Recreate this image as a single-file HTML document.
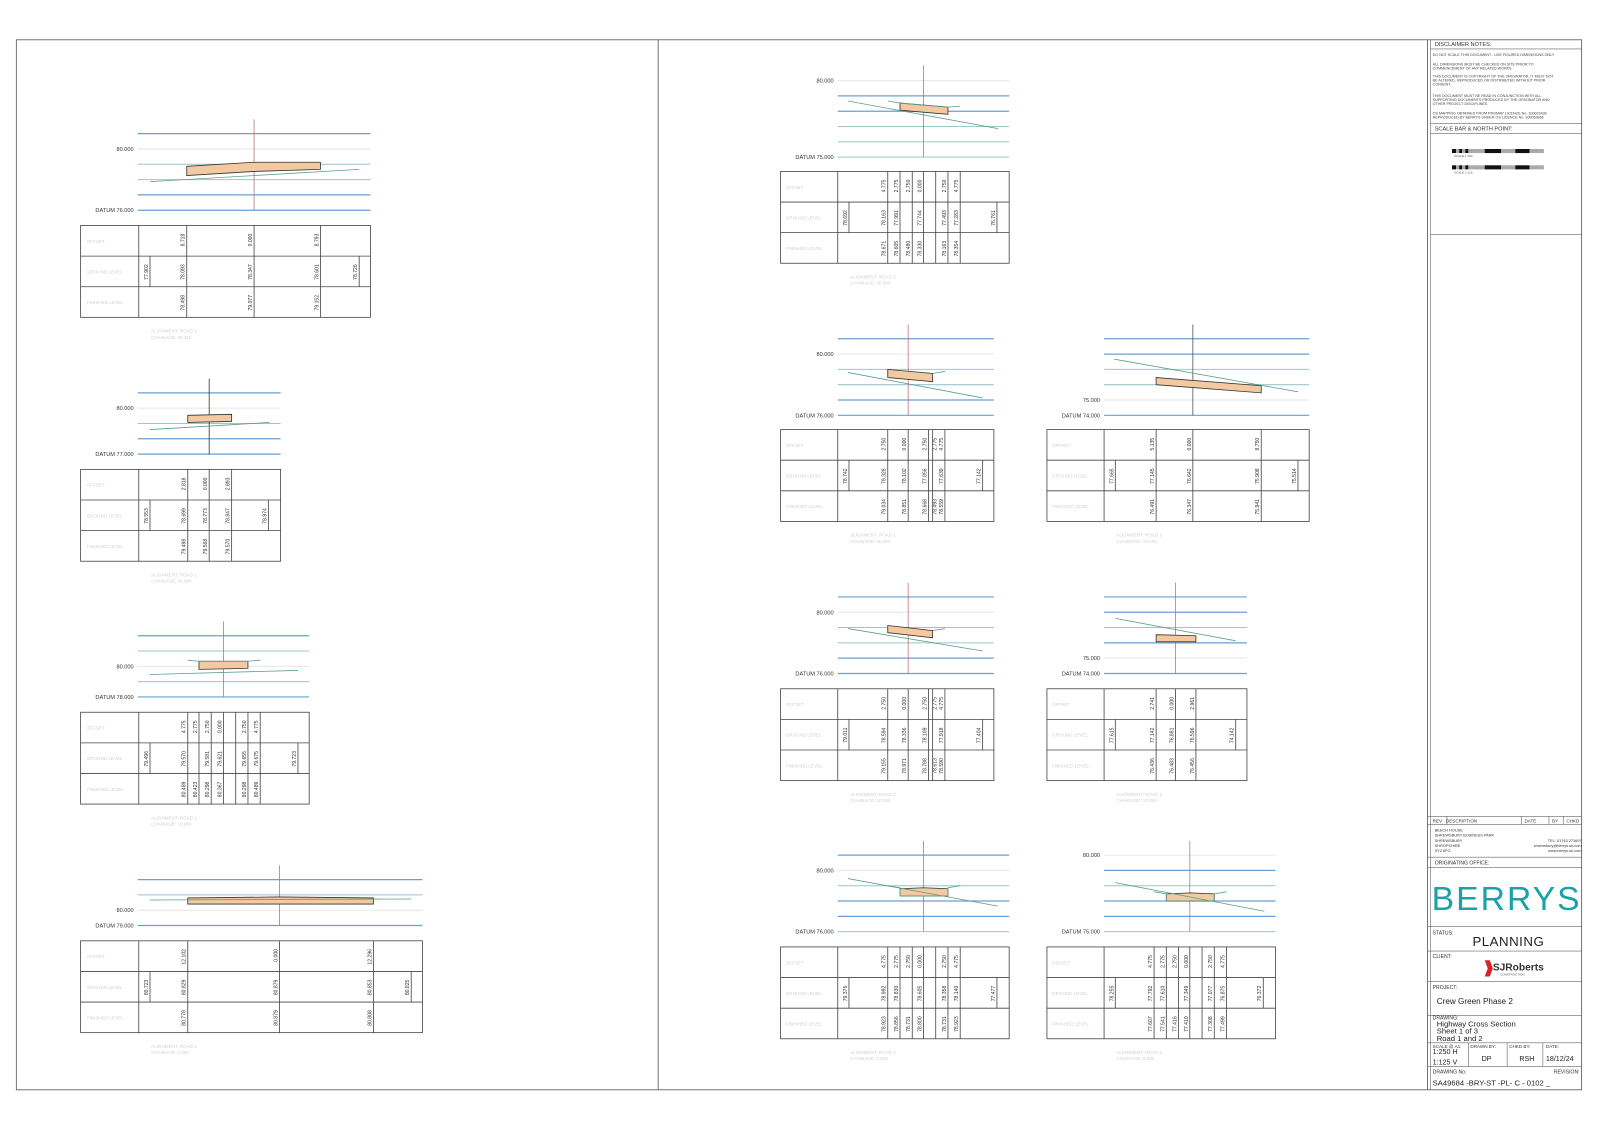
<!DOCTYPE html>
<html><head><meta charset="utf-8"><style>
html,body{margin:0;padding:0;background:#fff}
svg{display:block}
.b{stroke:#6b9fd3;stroke-width:1.2}
.g{stroke:#e6e6e6;stroke-width:1}
.t{stroke:#9cc6cc;stroke-width:1}
.v{stroke:#b77;stroke-width:.8}
.gr{stroke:#5aa08a;stroke-width:.8;fill:none}
.rd{fill:#f2c9a0;stroke:#333;stroke-width:.8}
.tb{fill:none;stroke:#444;stroke-width:.8}
.tl{stroke:#444;stroke-width:.8}
text{font-family:"Liberation Sans",sans-serif}
.n{font-size:5px;fill:#333}
.lb{font-size:5.5px;fill:#333}
.rl{font-size:4.5px;fill:#d0d0d0}
.ft{font-size:4.5px;fill:#d0d0d0}
.tt{font-size:5px;fill:#333}
</style></head><body>
<svg width="1600" height="1130" viewBox="0 0 1568 1107.4" xmlns="http://www.w3.org/2000/svg">
<rect x="16" y="39" width="1534" height="1029" fill="none" stroke="#555" stroke-width=".8"/>
<line x1="645" y1="39" x2="645" y2="1068" stroke="#555" stroke-width=".8"/>
<line x1="1399" y1="39" x2="1399" y2="1068" stroke="#555" stroke-width=".8"/>

<!-- Section A -->
<g>
<line class="b" x1="135" y1="131" x2="363" y2="131"/><line class="g" x1="135" y1="146" x2="363" y2="146"/><line class="t" x1="135" y1="161" x2="363" y2="161"/><line class="t" x1="135" y1="176" x2="363" y2="176"/><line class="b" x1="135" y1="191" x2="363" y2="191"/><line class="b" x1="135" y1="206" x2="363" y2="206"/>
<text class="lb" x="131" y="148" text-anchor="end">80.000</text><text class="lb" x="131" y="208" text-anchor="end">DATUM 76.000</text>
<line class="v" x1="249" y1="117" x2="249" y2="206"/>
<polygon class="rd" points="183,163 249,159 314,159 314,166 249,168 183,172"/>
<line class="gr" x1="147" y1="178" x2="352" y2="166"/>
<rect class="tb" x="79" y="221" width="284" height="90"/><line class="tl" x1="79" y1="251" x2="363" y2="251"/><line class="tl" x1="79" y1="281" x2="363" y2="281"/>
<line class="tl" x1="136" y1="221" x2="136" y2="311"/><line class="tl" x1="183" y1="221" x2="183" y2="311"/><line class="tl" x1="249" y1="221" x2="249" y2="311"/><line class="tl" x1="314" y1="221" x2="314" y2="311"/>
<line class="tl" x1="147" y1="251" x2="147" y2="281"/><line class="tl" x1="352" y1="251" x2="352" y2="281"/>
<text class="rl" x="85" y="238">OFFSET</text><text class="rl" x="85" y="268">GROUND LEVEL</text><text class="rl" x="85" y="298">FINISHED LEVEL</text>
<g class="n" text-anchor="middle">
<text transform="translate(181,229) rotate(-90)" text-anchor="end">8.718</text><text transform="translate(247,229) rotate(-90)" text-anchor="end">0.000</text><text transform="translate(312,229) rotate(-90)" text-anchor="end">8.793</text>
<text transform="translate(145,259) rotate(-90)" text-anchor="end">77.902</text><text transform="translate(181,259) rotate(-90)" text-anchor="end">78.093</text><text transform="translate(247,259) rotate(-90)" text-anchor="end">78.347</text><text transform="translate(312,259) rotate(-90)" text-anchor="end">78.601</text><text transform="translate(350,259) rotate(-90)" text-anchor="end">78.726</text>
<text transform="translate(181,289) rotate(-90)" text-anchor="end">78.498</text><text transform="translate(247,289) rotate(-90)" text-anchor="end">79.077</text><text transform="translate(312,289) rotate(-90)" text-anchor="end">79.152</text>
</g>
<text class="ft" x="148" y="326">ALIGNMENT: ROAD 1</text><text class="ft" x="148" y="332">CHAINAGE: 28.411</text>
</g>

<!-- Section B -->
<g>
<line class="b" x1="135" y1="385" x2="275" y2="385"/><line class="g" x1="135" y1="400" x2="275" y2="400"/><line class="t" x1="135" y1="415" x2="275" y2="415"/><line class="b" x1="135" y1="430" x2="275" y2="430"/><line class="b" x1="135" y1="445" x2="275" y2="445"/>
<text class="lb" x="131" y="402" text-anchor="end">80.000</text><text class="lb" x="131" y="447" text-anchor="end">DATUM 77.000</text>
<line x1="205" y1="371" x2="205" y2="445" stroke="#333" stroke-width=".8"/>
<polygon class="rd" points="184,407 227,406 227,413 184,414"/>
<line class="gr" x1="147" y1="421" x2="264" y2="414"/>
<rect class="tb" x="79" y="460" width="196" height="90"/><line class="tl" x1="79" y1="490" x2="275" y2="490"/><line class="tl" x1="79" y1="520" x2="275" y2="520"/>
<line class="tl" x1="136" y1="460" x2="136" y2="550"/><line class="tl" x1="184" y1="460" x2="184" y2="550"/><line class="tl" x1="205" y1="460" x2="205" y2="550"/><line class="tl" x1="227" y1="460" x2="227" y2="550"/>
<line class="tl" x1="147" y1="490" x2="147" y2="520"/><line class="tl" x1="263" y1="490" x2="263" y2="520"/>
<text class="rl" x="85" y="477">OFFSET</text><text class="rl" x="85" y="507">GROUND LEVEL</text><text class="rl" x="85" y="537">FINISHED LEVEL</text>
<g class="n" text-anchor="end">
<text transform="translate(182,468) rotate(-90)">2.818</text><text transform="translate(203,468) rotate(-90)">0.000</text><text transform="translate(225,468) rotate(-90)">2.893</text>
<text transform="translate(145,498) rotate(-90)">78.553</text><text transform="translate(182,498) rotate(-90)">78.699</text><text transform="translate(203,498) rotate(-90)">78.773</text><text transform="translate(225,498) rotate(-90)">78.847</text><text transform="translate(261,498) rotate(-90)">78.974</text>
<text transform="translate(182,528) rotate(-90)">79.498</text><text transform="translate(203,528) rotate(-90)">79.568</text><text transform="translate(225,528) rotate(-90)">79.570</text>
</g>
<text class="ft" x="148" y="565">ALIGNMENT: ROAD 1</text><text class="ft" x="148" y="571">CHAINAGE: 20.000</text>
</g>

<!-- Section C -->
<g>
<line class="b" x1="135" y1="623" x2="303" y2="623"/><line class="t" x1="135" y1="638" x2="303" y2="638"/><line class="g" x1="135" y1="653" x2="303" y2="653"/><line class="t" x1="135" y1="668" x2="303" y2="668"/><line class="b" x1="135" y1="683" x2="303" y2="683"/>
<text class="lb" x="131" y="655" text-anchor="end">80.000</text><text class="lb" x="131" y="685" text-anchor="end">DATUM 78.000</text>
<line class="v" x1="219" y1="609" x2="219" y2="683"/>
<polygon class="rd" points="195,648 243,648 243,655 195,656"/>
<polyline class="gr" points="184,647 195,648 243,648 255,647"/>
<line class="gr" x1="147" y1="661" x2="292" y2="657"/>
<rect class="tb" x="79" y="698" width="224" height="90"/><line class="tl" x1="79" y1="728" x2="303" y2="728"/><line class="tl" x1="79" y1="758" x2="303" y2="758"/>
<line class="tl" x1="136" y1="698" x2="136" y2="788"/><line class="tl" x1="184" y1="698" x2="184" y2="788"/><line class="tl" x1="195" y1="698" x2="195" y2="788"/><line class="tl" x1="207" y1="698" x2="207" y2="788"/><line class="tl" x1="219" y1="698" x2="219" y2="788"/><line class="tl" x1="231" y1="698" x2="231" y2="788"/><line class="tl" x1="243" y1="698" x2="243" y2="788"/><line class="tl" x1="255" y1="698" x2="255" y2="788"/>
<line class="tl" x1="147" y1="728" x2="147" y2="758"/><line class="tl" x1="292" y1="728" x2="292" y2="758"/>
<text class="rl" x="85" y="715">OFFSET</text><text class="rl" x="85" y="745">GROUND LEVEL</text><text class="rl" x="85" y="775">FINISHED LEVEL</text>
<g class="n" text-anchor="end">
<text transform="translate(182,706) rotate(-90)">4.775</text><text transform="translate(193,706) rotate(-90)">2.775</text><text transform="translate(205,706) rotate(-90)">2.750</text><text transform="translate(217,706) rotate(-90)">0.000</text><text transform="translate(241,706) rotate(-90)">2.750</text><text transform="translate(253,706) rotate(-90)">4.775</text>
<text transform="translate(145,736) rotate(-90)">79.496</text><text transform="translate(182,736) rotate(-90)">79.570</text><text transform="translate(205,736) rotate(-90)">79.581</text><text transform="translate(217,736) rotate(-90)">79.621</text><text transform="translate(241,736) rotate(-90)">79.655</text><text transform="translate(253,736) rotate(-90)">79.675</text><text transform="translate(290,736) rotate(-90)">79.723</text>
<text transform="translate(182,766) rotate(-90)">80.489</text><text transform="translate(193,766) rotate(-90)">80.423</text><text transform="translate(205,766) rotate(-90)">80.298</text><text transform="translate(217,766) rotate(-90)">80.367</text><text transform="translate(241,766) rotate(-90)">80.298</text><text transform="translate(253,766) rotate(-90)">80.489</text>
</g>
<text class="ft" x="148" y="803">ALIGNMENT: ROAD 1</text><text class="ft" x="148" y="809">CHAINAGE: 10.000</text>
</g>

<!-- Section D -->
<g>
<line class="b" x1="135" y1="862" x2="414" y2="862"/><line class="t" x1="135" y1="877" x2="414" y2="877"/><line class="g" x1="135" y1="892" x2="414" y2="892"/><line class="b" x1="135" y1="907" x2="414" y2="907"/>
<text class="lb" x="131" y="894" text-anchor="end">80.000</text><text class="lb" x="131" y="909" text-anchor="end">DATUM 79.000</text>
<line class="v" x1="274" y1="848" x2="274" y2="907"/>
<polygon class="rd" points="184,880 274,879 366,880 366,886 274,886 184,886"/>
<line class="gr" x1="147" y1="882" x2="403" y2="881"/>
<rect class="tb" x="79" y="922" width="335" height="90"/><line class="tl" x1="79" y1="952" x2="414" y2="952"/><line class="tl" x1="79" y1="982" x2="414" y2="982"/>
<line class="tl" x1="136" y1="922" x2="136" y2="1012"/><line class="tl" x1="184" y1="922" x2="184" y2="1012"/><line class="tl" x1="274" y1="922" x2="274" y2="1012"/><line class="tl" x1="366" y1="922" x2="366" y2="1012"/>
<line class="tl" x1="147" y1="952" x2="147" y2="982"/><line class="tl" x1="403" y1="952" x2="403" y2="982"/>
<text class="rl" x="85" y="939">OFFSET</text><text class="rl" x="85" y="969">GROUND LEVEL</text><text class="rl" x="85" y="999">FINISHED LEVEL</text>
<g class="n" text-anchor="end">
<text transform="translate(182,930) rotate(-90)">12.102</text><text transform="translate(272,930) rotate(-90)">0.000</text><text transform="translate(364,930) rotate(-90)">12.296</text>
<text transform="translate(145,960) rotate(-90)">80.723</text><text transform="translate(182,960) rotate(-90)">80.829</text><text transform="translate(272,960) rotate(-90)">80.879</text><text transform="translate(364,960) rotate(-90)">80.853</text><text transform="translate(401,960) rotate(-90)">80.825</text>
<text transform="translate(182,990) rotate(-90)">80.778</text><text transform="translate(272,990) rotate(-90)">80.879</text><text transform="translate(364,990) rotate(-90)">80.808</text>
</g>
<text class="ft" x="148" y="1027">ALIGNMENT: ROAD 1</text><text class="ft" x="148" y="1033">CHAINAGE: 0.000</text>
</g>

<!-- R1 -->
<g>
<line class="g" x1="821" y1="79" x2="989" y2="79"/><line class="b" x1="821" y1="94" x2="989" y2="94"/><line class="b" x1="821" y1="109" x2="989" y2="109"/><line class="t" x1="821" y1="124" x2="989" y2="124"/><line class="t" x1="821" y1="139" x2="989" y2="139"/><line class="t" x1="821" y1="154" x2="989" y2="154"/>
<text class="lb" x="817" y="81" text-anchor="end">80.000</text><text class="lb" x="817" y="156" text-anchor="end">DATUM 75.000</text>
<line class="v" x1="905" y1="64" x2="905" y2="154"/>
<polygon class="rd" points="882,101 929,105 929,112 882,108"/>
<polyline class="gr" points="870,99 882,101 929,105 941,104"/>
<line class="gr" x1="831" y1="99" x2="978" y2="126"/>
<rect class="tb" x="765" y="168" width="224" height="90"/><line class="tl" x1="765" y1="198" x2="989" y2="198"/><line class="tl" x1="765" y1="228" x2="989" y2="228"/>
<line class="tl" x1="821" y1="168" x2="821" y2="258"/><line class="tl" x1="870" y1="168" x2="870" y2="258"/><line class="tl" x1="882" y1="168" x2="882" y2="258"/><line class="tl" x1="894" y1="168" x2="894" y2="258"/><line class="tl" x1="905" y1="168" x2="905" y2="258"/><line class="tl" x1="917" y1="168" x2="917" y2="258"/><line class="tl" x1="929" y1="168" x2="929" y2="258"/><line class="tl" x1="941" y1="168" x2="941" y2="258"/>
<line class="tl" x1="832" y1="198" x2="832" y2="228"/><line class="tl" x1="977" y1="198" x2="977" y2="228"/>
<text class="rl" x="770" y="185">OFFSET</text><text class="rl" x="770" y="215">GROUND LEVEL</text><text class="rl" x="770" y="245">FINISHED LEVEL</text>
<g class="n" text-anchor="end">
<text transform="translate(868,176) rotate(-90)">4.775</text><text transform="translate(880,176) rotate(-90)">2.775</text><text transform="translate(892,176) rotate(-90)">2.750</text><text transform="translate(903,176) rotate(-90)">0.000</text><text transform="translate(927,176) rotate(-90)">2.750</text><text transform="translate(939,176) rotate(-90)">4.775</text>
<text transform="translate(830,206) rotate(-90)">78.692</text><text transform="translate(868,206) rotate(-90)">78.163</text><text transform="translate(880,206) rotate(-90)">77.991</text><text transform="translate(903,206) rotate(-90)">77.744</text><text transform="translate(927,206) rotate(-90)">77.493</text><text transform="translate(939,206) rotate(-90)">77.283</text><text transform="translate(975,206) rotate(-90)">76.761</text>
<text transform="translate(868,236) rotate(-90)">78.671</text><text transform="translate(880,236) rotate(-90)">78.605</text><text transform="translate(892,236) rotate(-90)">78.480</text><text transform="translate(903,236) rotate(-90)">78.330</text><text transform="translate(927,236) rotate(-90)">78.163</text><text transform="translate(939,236) rotate(-90)">78.354</text>
</g>
<text class="ft" x="833" y="273">ALIGNMENT: ROAD 2</text><text class="ft" x="833" y="279">CHAINAGE: 50.000</text>
</g>

<!-- R2 -->
<g>
<line class="b" x1="821" y1="332" x2="974" y2="332"/><line class="g" x1="821" y1="347" x2="974" y2="347"/><line class="t" x1="821" y1="362" x2="974" y2="362"/><line class="t" x1="821" y1="377" x2="974" y2="377"/><line class="b" x1="821" y1="392" x2="974" y2="392"/><line class="b" x1="821" y1="407" x2="974" y2="407"/>
<text class="lb" x="817" y="349" text-anchor="end">80.000</text><text class="lb" x="817" y="409" text-anchor="end">DATUM 76.000</text>
<line class="v" x1="890" y1="318" x2="890" y2="407"/>
<polygon class="rd" points="870,362 914,366 914,374 870,370"/>
<polyline class="gr" points="914,366 926,364"/>
<line class="gr" x1="831" y1="365" x2="963" y2="390"/>
<rect class="tb" x="765" y="421" width="209" height="90"/><line class="tl" x1="765" y1="451" x2="974" y2="451"/><line class="tl" x1="765" y1="481" x2="974" y2="481"/>
<line class="tl" x1="821" y1="421" x2="821" y2="511"/><line class="tl" x1="870" y1="421" x2="870" y2="511"/><line class="tl" x1="890" y1="421" x2="890" y2="511"/><line class="tl" x1="910" y1="421" x2="910" y2="511"/><line class="tl" x1="914" y1="421" x2="914" y2="511"/><line class="tl" x1="926" y1="421" x2="926" y2="511"/>
<line class="tl" x1="832" y1="451" x2="832" y2="481"/><line class="tl" x1="963" y1="451" x2="963" y2="481"/>
<text class="rl" x="770" y="438">OFFSET</text><text class="rl" x="770" y="468">GROUND LEVEL</text><text class="rl" x="770" y="498">FINISHED LEVEL</text>
<g class="n" text-anchor="end">
<text transform="translate(868,429) rotate(-90)">2.750</text><text transform="translate(888,429) rotate(-90)">0.000</text><text transform="translate(908,429) rotate(-90)">2.750</text><text transform="translate(918,429) rotate(-90)">2.775</text><text transform="translate(924,429) rotate(-90)">4.775</text>
<text transform="translate(830,459) rotate(-90)">78.742</text><text transform="translate(868,459) rotate(-90)">78.328</text><text transform="translate(888,459) rotate(-90)">78.102</text><text transform="translate(908,459) rotate(-90)">77.856</text><text transform="translate(924,459) rotate(-90)">77.639</text><text transform="translate(961,459) rotate(-90)">77.142</text>
<text transform="translate(868,489) rotate(-90)">79.034</text><text transform="translate(888,489) rotate(-90)">78.851</text><text transform="translate(908,489) rotate(-90)">78.668</text><text transform="translate(918,489) rotate(-90)">78.493</text><text transform="translate(924,489) rotate(-90)">78.559</text>
</g>
<text class="ft" x="833" y="526">ALIGNMENT: ROAD 2</text><text class="ft" x="833" y="532">CHAINAGE: 40.000</text>
</g>

<!-- R3 -->
<g>
<line class="b" x1="1082" y1="332" x2="1283" y2="332"/><line class="b" x1="1082" y1="347" x2="1283" y2="347"/><line class="t" x1="1082" y1="362" x2="1283" y2="362"/><line class="t" x1="1082" y1="377" x2="1283" y2="377"/><line class="g" x1="1082" y1="392" x2="1283" y2="392"/><line class="b" x1="1082" y1="407" x2="1283" y2="407"/>
<text class="lb" x="1078" y="394" text-anchor="end">75.000</text><text class="lb" x="1078" y="409" text-anchor="end">DATUM 74.000</text>
<line x1="1169" y1="318" x2="1169" y2="407" stroke="#555" stroke-width=".8"/>
<polygon class="rd" points="1133,370 1236,378 1236,385 1133,377"/>
<line class="gr" x1="1092" y1="352" x2="1272" y2="384"/>
<rect class="tb" x="1026" y="421" width="257" height="90"/><line class="tl" x1="1026" y1="451" x2="1283" y2="451"/><line class="tl" x1="1026" y1="481" x2="1283" y2="481"/>
<line class="tl" x1="1082" y1="421" x2="1082" y2="511"/><line class="tl" x1="1133" y1="421" x2="1133" y2="511"/><line class="tl" x1="1169" y1="421" x2="1169" y2="511"/><line class="tl" x1="1236" y1="421" x2="1236" y2="511"/>
<line class="tl" x1="1093" y1="451" x2="1093" y2="481"/><line class="tl" x1="1272" y1="451" x2="1272" y2="481"/>
<text class="rl" x="1031" y="438">OFFSET</text><text class="rl" x="1031" y="468">GROUND LEVEL</text><text class="rl" x="1031" y="498">FINISHED LEVEL</text>
<g class="n" text-anchor="end">
<text transform="translate(1131,429) rotate(-90)">5.135</text><text transform="translate(1167,429) rotate(-90)">0.000</text><text transform="translate(1234,429) rotate(-90)">8.750</text>
<text transform="translate(1091,459) rotate(-90)">77.665</text><text transform="translate(1131,459) rotate(-90)">77.145</text><text transform="translate(1167,459) rotate(-90)">76.642</text><text transform="translate(1234,459) rotate(-90)">75.908</text><text transform="translate(1270,459) rotate(-90)">75.514</text>
<text transform="translate(1131,489) rotate(-90)">76.491</text><text transform="translate(1167,489) rotate(-90)">76.347</text><text transform="translate(1234,489) rotate(-90)">75.941</text>
</g>
<text class="ft" x="1094" y="526">ALIGNMENT: ROAD 2</text><text class="ft" x="1094" y="532">CHAINAGE: 28.435</text>
</g>

<!-- R4 -->
<g>
<line class="b" x1="821" y1="585" x2="974" y2="585"/><line class="g" x1="821" y1="600" x2="974" y2="600"/><line class="t" x1="821" y1="615" x2="974" y2="615"/><line class="t" x1="821" y1="630" x2="974" y2="630"/><line class="b" x1="821" y1="645" x2="974" y2="645"/><line class="b" x1="821" y1="660" x2="974" y2="660"/>
<text class="lb" x="817" y="602" text-anchor="end">80.000</text><text class="lb" x="817" y="662" text-anchor="end">DATUM 76.000</text>
<line class="v" x1="890" y1="571" x2="890" y2="660"/>
<polygon class="rd" points="870,613 914,618 914,625 870,620"/>
<polyline class="gr" points="914,618 926,616"/>
<line class="gr" x1="831" y1="616" x2="963" y2="638"/>
<rect class="tb" x="765" y="675" width="209" height="90"/><line class="tl" x1="765" y1="705" x2="974" y2="705"/><line class="tl" x1="765" y1="735" x2="974" y2="735"/>
<line class="tl" x1="821" y1="675" x2="821" y2="765"/><line class="tl" x1="870" y1="675" x2="870" y2="765"/><line class="tl" x1="890" y1="675" x2="890" y2="765"/><line class="tl" x1="910" y1="675" x2="910" y2="765"/><line class="tl" x1="914" y1="675" x2="914" y2="765"/><line class="tl" x1="926" y1="675" x2="926" y2="765"/>
<line class="tl" x1="832" y1="705" x2="832" y2="735"/><line class="tl" x1="963" y1="705" x2="963" y2="735"/>
<text class="rl" x="770" y="692">OFFSET</text><text class="rl" x="770" y="722">GROUND LEVEL</text><text class="rl" x="770" y="752">FINISHED LEVEL</text>
<g class="n" text-anchor="end">
<text transform="translate(868,683) rotate(-90)">2.750</text><text transform="translate(888,683) rotate(-90)">0.000</text><text transform="translate(908,683) rotate(-90)">2.750</text><text transform="translate(918,683) rotate(-90)">2.775</text><text transform="translate(924,683) rotate(-90)">4.775</text>
<text transform="translate(830,713) rotate(-90)">79.011</text><text transform="translate(868,713) rotate(-90)">78.594</text><text transform="translate(888,713) rotate(-90)">78.336</text><text transform="translate(908,713) rotate(-90)">78.109</text><text transform="translate(924,713) rotate(-90)">77.918</text><text transform="translate(961,713) rotate(-90)">77.404</text>
<text transform="translate(868,743) rotate(-90)">79.155</text><text transform="translate(888,743) rotate(-90)">78.971</text><text transform="translate(908,743) rotate(-90)">78.788</text><text transform="translate(918,743) rotate(-90)">78.613</text><text transform="translate(924,743) rotate(-90)">78.590</text>
</g>
<text class="ft" x="833" y="780">ALIGNMENT: ROAD 2</text><text class="ft" x="833" y="786">CHAINAGE: 10.000</text>
</g>

<!-- R5 -->
<g>
<line class="b" x1="1082" y1="585" x2="1222" y2="585"/><line class="b" x1="1082" y1="600" x2="1222" y2="600"/><line class="t" x1="1082" y1="615" x2="1222" y2="615"/><line class="b" x1="1082" y1="630" x2="1222" y2="630"/><line class="g" x1="1082" y1="645" x2="1222" y2="645"/><line class="b" x1="1082" y1="660" x2="1222" y2="660"/>
<text class="lb" x="1078" y="647" text-anchor="end">75.000</text><text class="lb" x="1078" y="662" text-anchor="end">DATUM 74.000</text>
<line class="v" x1="1152" y1="571" x2="1152" y2="660"/>
<polygon class="rd" points="1133,622 1172,623 1172,629 1133,629"/>
<line class="gr" x1="1093" y1="606" x2="1211" y2="628"/>
<rect class="tb" x="1026" y="675" width="196" height="90"/><line class="tl" x1="1026" y1="705" x2="1222" y2="705"/><line class="tl" x1="1026" y1="735" x2="1222" y2="735"/>
<line class="tl" x1="1082" y1="675" x2="1082" y2="765"/><line class="tl" x1="1133" y1="675" x2="1133" y2="765"/><line class="tl" x1="1152" y1="675" x2="1152" y2="765"/><line class="tl" x1="1172" y1="675" x2="1172" y2="765"/>
<line class="tl" x1="1093" y1="705" x2="1093" y2="735"/><line class="tl" x1="1211" y1="705" x2="1211" y2="735"/>
<text class="rl" x="1031" y="692">OFFSET</text><text class="rl" x="1031" y="722">GROUND LEVEL</text><text class="rl" x="1031" y="752">FINISHED LEVEL</text>
<g class="n" text-anchor="end">
<text transform="translate(1131,683) rotate(-90)">2.741</text><text transform="translate(1150,683) rotate(-90)">0.000</text><text transform="translate(1170,683) rotate(-90)">2.961</text>
<text transform="translate(1091,713) rotate(-90)">77.615</text><text transform="translate(1131,713) rotate(-90)">77.142</text><text transform="translate(1150,713) rotate(-90)">76.881</text><text transform="translate(1170,713) rotate(-90)">76.596</text><text transform="translate(1209,713) rotate(-90)">74.142</text>
<text transform="translate(1131,743) rotate(-90)">76.436</text><text transform="translate(1150,743) rotate(-90)">76.483</text><text transform="translate(1170,743) rotate(-90)">76.456</text>
</g>
<text class="ft" x="1094" y="780">ALIGNMENT: ROAD 2</text><text class="ft" x="1094" y="786">CHAINAGE: 20.000</text>
</g>

<!-- R6 -->
<g>
<line class="b" x1="821" y1="838" x2="989" y2="838"/><line class="g" x1="821" y1="853" x2="989" y2="853"/><line class="t" x1="821" y1="868" x2="989" y2="868"/><line class="b" x1="821" y1="883" x2="989" y2="883"/><line class="b" x1="821" y1="898" x2="989" y2="898"/><line class="t" x1="821" y1="913" x2="989" y2="913"/>
<text class="lb" x="817" y="855" text-anchor="end">80.000</text><text class="lb" x="817" y="915" text-anchor="end">DATUM 76.000</text>
<line class="v" x1="905" y1="824" x2="905" y2="913"/>
<polygon class="rd" points="882,871 905,870 929,871 929,878 882,878"/>
<polyline class="gr" points="870,868 882,870 882,878 929,878 929,870 941,868"/>
<line class="gr" x1="831" y1="861" x2="978" y2="888"/>
<rect class="tb" x="765" y="928" width="224" height="90"/><line class="tl" x1="765" y1="958" x2="989" y2="958"/><line class="tl" x1="765" y1="988" x2="989" y2="988"/>
<line class="tl" x1="821" y1="928" x2="821" y2="1018"/><line class="tl" x1="870" y1="928" x2="870" y2="1018"/><line class="tl" x1="882" y1="928" x2="882" y2="1018"/><line class="tl" x1="894" y1="928" x2="894" y2="1018"/><line class="tl" x1="905" y1="928" x2="905" y2="1018"/><line class="tl" x1="917" y1="928" x2="917" y2="1018"/><line class="tl" x1="929" y1="928" x2="929" y2="1018"/><line class="tl" x1="941" y1="928" x2="941" y2="1018"/>
<line class="tl" x1="832" y1="958" x2="832" y2="988"/><line class="tl" x1="977" y1="958" x2="977" y2="988"/>
<text class="rl" x="770" y="945">OFFSET</text><text class="rl" x="770" y="975">GROUND LEVEL</text><text class="rl" x="770" y="1005">FINISHED LEVEL</text>
<g class="n" text-anchor="end">
<text transform="translate(868,936) rotate(-90)">4.775</text><text transform="translate(880,936) rotate(-90)">2.775</text><text transform="translate(892,936) rotate(-90)">2.750</text><text transform="translate(903,936) rotate(-90)">0.000</text><text transform="translate(927,936) rotate(-90)">2.750</text><text transform="translate(939,936) rotate(-90)">4.775</text>
<text transform="translate(830,966) rotate(-90)">79.376</text><text transform="translate(868,966) rotate(-90)">78.992</text><text transform="translate(880,966) rotate(-90)">78.830</text><text transform="translate(903,966) rotate(-90)">78.605</text><text transform="translate(927,966) rotate(-90)">78.358</text><text transform="translate(939,966) rotate(-90)">78.140</text><text transform="translate(975,966) rotate(-90)">77.477</text>
<text transform="translate(868,996) rotate(-90)">78.923</text><text transform="translate(880,996) rotate(-90)">78.856</text><text transform="translate(892,996) rotate(-90)">78.731</text><text transform="translate(903,996) rotate(-90)">78.800</text><text transform="translate(927,996) rotate(-90)">78.731</text><text transform="translate(939,996) rotate(-90)">78.923</text>
</g>
<text class="ft" x="833" y="1033">ALIGNMENT: ROAD 2</text><text class="ft" x="833" y="1039">CHAINAGE: 0.000</text>
</g>

<!-- R7 -->
<g>
<line class="g" x1="1082" y1="838" x2="1250" y2="838"/><line class="b" x1="1082" y1="853" x2="1250" y2="853"/><line class="t" x1="1082" y1="868" x2="1250" y2="868"/><line class="b" x1="1082" y1="883" x2="1250" y2="883"/><line class="b" x1="1082" y1="898" x2="1250" y2="898"/><line class="t" x1="1082" y1="913" x2="1250" y2="913"/>
<text class="lb" x="1078" y="840" text-anchor="end">80.000</text><text class="lb" x="1078" y="915" text-anchor="end">DATUM 75.000</text>
<line class="v" x1="1166" y1="824" x2="1166" y2="913"/>
<polygon class="rd" points="1143,876 1166,875 1190,876 1190,883 1143,883"/>
<polyline class="gr" points="1131,874 1143,876 1143,883 1190,883 1190,876 1202,874"/>
<line class="gr" x1="1093" y1="865" x2="1239" y2="893"/>
<rect class="tb" x="1026" y="928" width="224" height="90"/><line class="tl" x1="1026" y1="958" x2="1250" y2="958"/><line class="tl" x1="1026" y1="988" x2="1250" y2="988"/>
<line class="tl" x1="1082" y1="928" x2="1082" y2="1018"/><line class="tl" x1="1131" y1="928" x2="1131" y2="1018"/><line class="tl" x1="1143" y1="928" x2="1143" y2="1018"/><line class="tl" x1="1155" y1="928" x2="1155" y2="1018"/><line class="tl" x1="1166" y1="928" x2="1166" y2="1018"/><line class="tl" x1="1178" y1="928" x2="1178" y2="1018"/><line class="tl" x1="1190" y1="928" x2="1190" y2="1018"/><line class="tl" x1="1202" y1="928" x2="1202" y2="1018"/>
<line class="tl" x1="1093" y1="958" x2="1093" y2="988"/><line class="tl" x1="1238" y1="958" x2="1238" y2="988"/>
<text class="rl" x="1031" y="945">OFFSET</text><text class="rl" x="1031" y="975">GROUND LEVEL</text><text class="rl" x="1031" y="1005">FINISHED LEVEL</text>
<g class="n" text-anchor="end">
<text transform="translate(1129,936) rotate(-90)">4.775</text><text transform="translate(1141,936) rotate(-90)">2.775</text><text transform="translate(1153,936) rotate(-90)">2.750</text><text transform="translate(1164,936) rotate(-90)">0.000</text><text transform="translate(1188,936) rotate(-90)">2.750</text><text transform="translate(1200,936) rotate(-90)">4.775</text>
<text transform="translate(1091,966) rotate(-90)">78.255</text><text transform="translate(1129,966) rotate(-90)">77.792</text><text transform="translate(1141,966) rotate(-90)">77.610</text><text transform="translate(1164,966) rotate(-90)">77.349</text><text transform="translate(1188,966) rotate(-90)">77.077</text><text transform="translate(1200,966) rotate(-90)">76.875</text><text transform="translate(1236,966) rotate(-90)">76.372</text>
<text transform="translate(1129,996) rotate(-90)">77.607</text><text transform="translate(1141,996) rotate(-90)">77.541</text><text transform="translate(1153,996) rotate(-90)">77.416</text><text transform="translate(1164,996) rotate(-90)">77.410</text><text transform="translate(1188,996) rotate(-90)">77.308</text><text transform="translate(1200,996) rotate(-90)">77.499</text>
</g>
<text class="ft" x="1094" y="1033">ALIGNMENT: ROAD 2</text><text class="ft" x="1094" y="1039">CHAINAGE: 8.000</text>
</g>

<!-- Title block -->
<g stroke="#666" stroke-width=".6">
<line x1="1402" y1="48" x2="1550" y2="48"/>
<line x1="1402" y1="121" x2="1550" y2="121"/><line x1="1402" y1="131" x2="1550" y2="131"/>
<line x1="1402" y1="230" x2="1550" y2="230"/>
<line x1="1399" y1="800" x2="1550" y2="800"/><line x1="1399" y1="808" x2="1550" y2="808"/>
<line x1="1418" y1="800" x2="1418" y2="808"/><line x1="1491" y1="800" x2="1491" y2="808"/><line x1="1518" y1="800" x2="1518" y2="808"/><line x1="1532" y1="800" x2="1532" y2="808"/>
<line x1="1399" y1="840" x2="1550" y2="840"/><line x1="1399" y1="850" x2="1550" y2="850"/>
<line x1="1399" y1="908" x2="1550" y2="908"/><line x1="1399" y1="932" x2="1550" y2="932"/>
<line x1="1399" y1="962" x2="1550" y2="962"/><line x1="1399" y1="995" x2="1550" y2="995"/>
<line x1="1399" y1="1022" x2="1550" y2="1022"/><line x1="1399" y1="1045" x2="1550" y2="1045"/>
<line x1="1439" y1="1022" x2="1439" y2="1045"/><line x1="1477" y1="1022" x2="1477" y2="1045"/><line x1="1512" y1="1022" x2="1512" y2="1045"/>
<line x1="1402" y1="39" x2="1402" y2="1068"/>
</g>
<text x="1406" y="45" style="font-size:5.5px;fill:#333">DISCLAIMER NOTES:</text>
<g style="font-size:3.6px;fill:#444">
<text x="1404" y="55">DO NOT SCALE THIS DOCUMENT - USE FIGURED DIMENSIONS ONLY</text>
<text x="1404" y="64">ALL DIMENSIONS MUST BE CHECKED ON SITE PRIOR TO</text><text x="1404" y="68">COMMENCEMENT OF ANY RELATED WORKS.</text>
<text x="1404" y="76">THIS DOCUMENT IS COPYRIGHT OF THE ORIGINATOR, IT MUST NOT</text><text x="1404" y="80">BE ALTERED, REPRODUCED OR DISTRIBUTED WITHOUT PRIOR</text><text x="1404" y="84">CONSENT.</text>
<text x="1404" y="95">THIS DOCUMENT MUST BE READ IN CONJUNCTION WITH ALL</text><text x="1404" y="99">SUPPORTING DOCUMENTS PRODUCED BY THE ORIGINATOR AND</text><text x="1404" y="103">OTHER PROJECT DISCIPLINES.</text>
<text x="1404" y="112">OS MAPPING OBTAINED FROM PROMAP LICENCE No. 100023430</text><text x="1404" y="116">REPRODUCED BY BERRYS UNDER OS LICENCE No. 100053866</text>
</g>
<text x="1406" y="128" style="font-size:5.5px;fill:#333">SCALE BAR &amp; NORTH POINT:</text>
<g>
<rect x="1423" y="146" width="4" height="4" fill="#111"/><rect x="1427" y="146" width="3" height="4" fill="#aaa"/><rect x="1430" y="146" width="3" height="4" fill="#111"/><rect x="1433" y="146" width="3" height="4" fill="#aaa"/><rect x="1436" y="146" width="3" height="4" fill="#111"/><rect x="1439" y="146" width="16" height="4" fill="#aaa"/><rect x="1455" y="146" width="16" height="4" fill="#111"/><rect x="1471" y="146" width="14" height="4" fill="#aaa"/><rect x="1485" y="146" width="14" height="4" fill="#111"/><rect x="1499" y="146" width="14" height="4" fill="#aaa"/>
<rect x="1423" y="162" width="4" height="4" fill="#111"/><rect x="1427" y="162" width="3" height="4" fill="#aaa"/><rect x="1430" y="162" width="3" height="4" fill="#111"/><rect x="1433" y="162" width="3" height="4" fill="#aaa"/><rect x="1436" y="162" width="3" height="4" fill="#111"/><rect x="1439" y="162" width="16" height="4" fill="#aaa"/><rect x="1455" y="162" width="16" height="4" fill="#111"/><rect x="1471" y="162" width="14" height="4" fill="#aaa"/><rect x="1485" y="162" width="14" height="4" fill="#111"/><rect x="1499" y="162" width="14" height="4" fill="#aaa"/>
<text x="1425" y="154" style="font-size:3px;fill:#555">SCALE 1:250</text><text x="1425" y="170" style="font-size:3px;fill:#555">SCALE 1:125</text>
</g>
<g style="font-size:4.5px;fill:#333">
<text x="1404" y="806">REV</text><text x="1417" y="806">DESCRIPTION</text><text x="1494" y="806">DATE</text><text x="1521" y="806">BY</text><text x="1535" y="806">CHKD</text>
</g>
<g style="font-size:3.8px;fill:#333">
<text x="1406" y="815">BEECH HOUSE</text><text x="1406" y="820">SHREWSBURY BUSINESS PARK</text><text x="1406" y="825">SHREWSBURY</text><text x="1406" y="830">SHROPSHIRE</text><text x="1406" y="835">SY2 6FG</text>
<text x="1550" y="825" text-anchor="end">TEL: 01743 271697</text><text x="1550" y="830" text-anchor="end">shrewsbury@berrys.uk.com</text><text x="1550" y="835" text-anchor="end">www.berrys.uk.com</text>
</g>
<text x="1406" y="847" style="font-size:5px;fill:#333">ORIGINATING OFFICE:</text>
<text x="1403" y="892" style="font-size:33px;fill:#1aa2a6;letter-spacing:2px;font-family:'Liberation Sans',sans-serif">BERRYS</text>
<text x="1404" y="916" style="font-size:5px;fill:#333">STATUS:</text>
<text x="1443" y="927" style="font-size:13px;fill:#222;letter-spacing:.5px">PLANNING</text>
<text x="1404" y="939" style="font-size:5px;fill:#333">CLIENT:</text>
<path d="M1455,941 l5,0 l3,8 l-3,8 l-5,0 l3,-8 z" fill="#d22"/>
<text x="1463" y="951" style="font-size:10px;fill:#333;font-weight:bold">SJRoberts</text>
<text x="1470" y="956" style="font-size:3px;fill:#555">CONSTRUCTION</text>
<text x="1404" y="969" style="font-size:5px;fill:#333">PROJECT:</text>
<text x="1408" y="984" style="font-size:8px;fill:#222">Crew Green Phase 2</text>
<text x="1404" y="999" style="font-size:5px;fill:#333">DRAWING:</text>
<g style="font-size:7.5px;fill:#222"><text x="1408" y="1006">Highway Cross Section</text><text x="1408" y="1013">Sheet 1 of 3</text><text x="1408" y="1020">Road 1 and 2</text></g>
<g style="font-size:4.5px;fill:#333"><text x="1404" y="1027">SCALE @ A1:</text><text x="1441" y="1027">DRAWN BY:</text><text x="1479" y="1027">CHKD BY:</text><text x="1515" y="1027">DATE:</text></g>
<g style="font-size:7px;fill:#222"><text x="1404" y="1033">1:250 H</text><text x="1404" y="1043">1:125 V</text><text x="1452" y="1040">DP</text><text x="1489" y="1040">RSH</text><text x="1515" y="1040">18/12/24</text></g>
<text x="1404" y="1052" style="font-size:5px;fill:#333">DRAWING No:</text><text x="1548" y="1052" text-anchor="end" style="font-size:5px;fill:#333">REVISION:</text>
<text x="1404" y="1064" style="font-size:7.5px;fill:#222">SA49684 -BRY-ST -PL- C  - 0102 _</text>
</svg>
</body></html>
